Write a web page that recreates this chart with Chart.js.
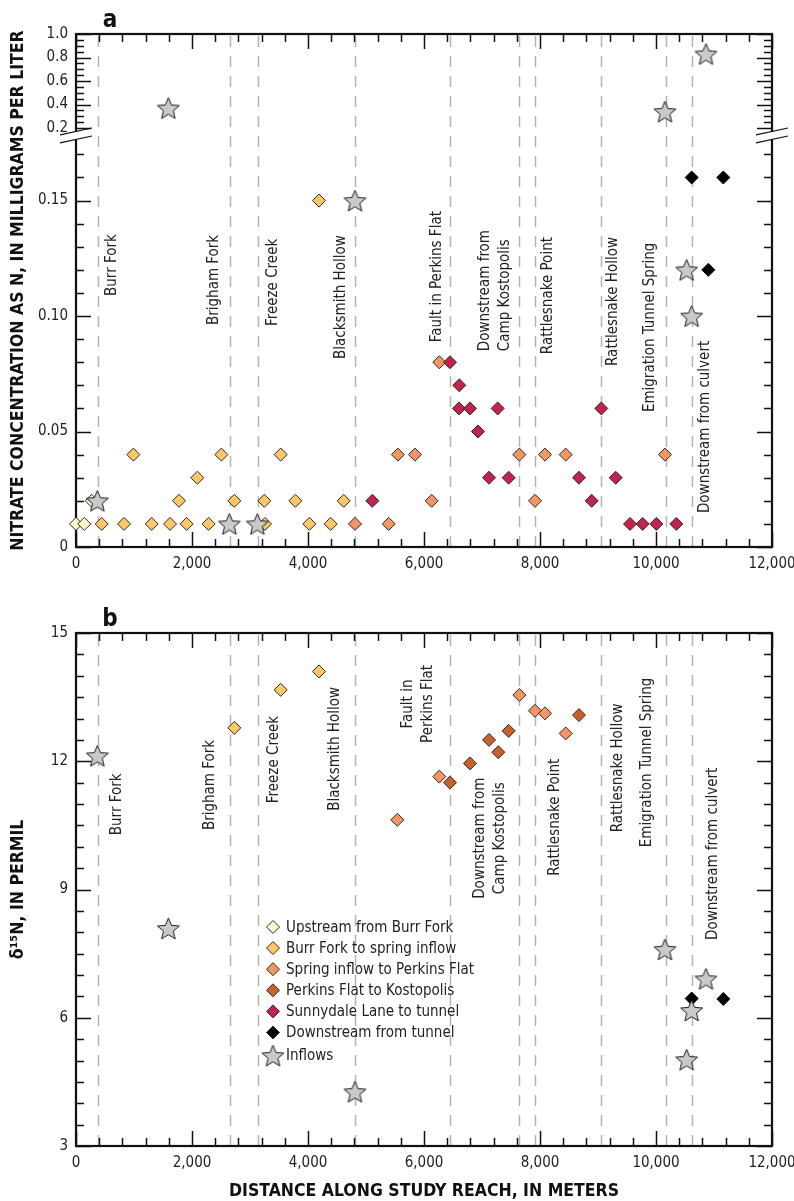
<!DOCTYPE html>
<html>
<head>
<meta charset="utf-8">
<script src="https://cdn.jsdelivr.net/npm/chart.js@4.4.1/dist/chart.umd.min.js"></script>
<style>
  body { margin: 0; background: #fff; }
  #wrap { position: relative; width: 794px; height: 1201px; }
  canvas { position: absolute; left: 0; }
</style>
</head>
<body>
<div id="wrap">
  <canvas id="chartA" width="794" height="580" style="top:0"></canvas>
  <canvas id="chartB" width="794" height="621" style="top:580px"></canvas>
</div>
<script>
// ---- data (distance along reach in meters) ----
const reachX = [374, 2655, 3133, 4810, 6443, 7644, 7920, 9057, 10167, 10621];

// nitrate as N, mg/L  [distance, value]
const upstreamNitrate = [[0, 0.01], [143, 0.01], [270, 0.02]];
const burrNitrate = [[443, 0.01], [828, 0.01], [989, 0.04], [1305, 0.01], [1621, 0.01], [1776, 0.02], [1908, 0.01],
  [2092, 0.03], [2287, 0.01], [2506, 0.04], [2730, 0.02], [3247, 0.02], [3259, 0.01], [3529, 0.04], [3782, 0.02],
  [4023, 0.01], [4190, 0.15], [4391, 0.01], [4615, 0.02]];
const springNitrate = [[4810, 0.01], [5391, 0.01], [5550, 0.04], [5845, 0.04], [6132, 0.02], [6264, 0.08],
  [7644, 0.04], [7914, 0.02], [8086, 0.04], [8443, 0.04], [10155, 0.04]];
const perkinsNitrate = [];
const sunnyNitrate = [[5109, 0.02], [6448, 0.08], [6609, 0.07], [6603, 0.06], [6793, 0.06], [6931, 0.05], [7121, 0.03],
  [7270, 0.06], [7460, 0.03], [8672, 0.03], [8891, 0.02], [9057, 0.06], [9305, 0.03], [9552, 0.01], [9770, 0.01],
  [10006, 0.01], [10350, 0.01]];
const tunnelNitrate = [[10615, 0.16], [11161, 0.16], [10902, 0.12]];
const inflowNitrate = [[368, 0.02], [1592, 0.37], [2644, 0.01], [3127, 0.01], [4810, 0.15], [10155, 0.34],
  [10529, 0.12], [10615, 0.10], [10862, 0.83]];

// delta 15N, permil
const upstreamD15 = [];
const burrD15 = [[2730, 12.78], [3529, 13.67], [4190, 14.10]];
const springD15 = [[5540, 10.63], [6264, 11.64], [7644, 13.55], [7914, 13.18], [8086, 13.12], [8443, 12.65]];
const perkinsD15 = [[6448, 11.50], [6793, 11.95], [7121, 12.50], [7281, 12.21], [7460, 12.71], [8672, 13.08]];
const sunnyD15 = [];
const tunnelD15 = [[10615, 6.45], [11161, 6.44]];
const inflowD15 = [[368, 12.13], [1592, 8.09], [4810, 4.27], [10155, 7.60], [10529, 5.02], [10615, 6.17], [10862, 6.91]];

// tick labels
const xMajor = [0, 2000, 4000, 6000, 8000, 10000, 12000];
const nitrateMajorLow = [0, 0.05, 0.10, 0.15];
const nitrateMajorHigh = [0.2, 0.4, 0.6, 0.8, 1.0];
const d15Major = [3, 6, 9, 12, 15];

const groupNames = ['Upstream from Burr Fork', 'Burr Fork to spring inflow', 'Spring inflow to Perkins Flat',
  'Perkins Flat to Kostopolis', 'Sunnydale Lane to tunnel', 'Downstream from tunnel', 'Inflows'];
const groupColors = ['#fff7cc', '#fdc766', '#f59562', '#c9612b', '#c1234b', '#000000', '#c8c8c8'];

// ---- styling / layout ----
const FONT = "'DejaVu Sans Condensed', 'DejaVu Sans', sans-serif";
const TFONT = "'Liberation Sans Narrow', 'DejaVu Sans Condensed', sans-serif";
Chart.defaults.font.family = FONT;
Chart.defaults.font.size = 15;
Chart.defaults.color = '#222';

// broken nitrate axis: linear below 0.175, compressed above 0.2
function nd(v) { return v <= 0.175 ? v : 0.1814 + (v - 0.2) * 0.0509; }

function makeStar(size) {
  const c = document.createElement('canvas');
  c.width = c.height = size;
  const g = c.getContext('2d');
  const R = size / 2 - 1, r = R * 0.45;
  const cx = size / 2, cy = size / 2 + R * 0.095;
  g.beginPath();
  for (let i = 0; i < 10; i++) {
    const ang = -Math.PI / 2 + i * Math.PI / 5, rr = i % 2 ? r : R;
    g.lineTo(cx + rr * Math.cos(ang), cy + rr * Math.sin(ang));
  }
  g.closePath();
  g.fillStyle = '#c9c9c9'; g.fill();
  g.strokeStyle = '#1a1a1a'; g.lineWidth = 1; g.stroke();
  return c;
}
const star = makeStar(25);

function datasets(series, tf) {
  return series.map((pts, i) => {
    const isStar = i === 6;
    return {
      label: groupNames[i],
      data: pts.map(p => ({x: p[0], y: tf(p[1])})),
      pointStyle: isStar ? star : 'rectRot',
      pointRadius: 6.5,
      pointBackgroundColor: groupColors[i],
      pointBorderColor: i === 5 ? '#000' : '#2a2a2a',
      pointBorderWidth: 1,
      showLine: false,
      clip: false,
      order: isStar ? 0 : 10 - i
    };
  });
}

function xTicks(scale) {
  const t = [];
  for (let v = 0; v <= 12000; v += 400) t.push({value: v, big: xMajor.includes(v)});
  scale.ticks = t;
}
function xLabel(v, i, ticks) { return ticks[i].big ? v.toLocaleString('en-US') : ''; }

const labelsA = [
  {x: 621, y: 0.1087, lines: ['Burr Fork']},
  {x: 2379, y: 0.0961, lines: ['Brigham Fork']},
  {x: 3397, y: 0.0957, lines: ['Freeze Creek']},
  {x: 4569, y: 0.0814, lines: ['Blacksmith Hollow']},
  {x: 6224, y: 0.0887, lines: ['Fault in Perkins Flat']},
  {x: 7224, y: 0.0848, lines: ['Downstream from', 'Camp Kostopolis']},
  {x: 8138, y: 0.0835, lines: ['Rattlesnake Point']},
  {x: 9259, y: 0.0784, lines: ['Rattlesnake Hollow']},
  {x: 9897, y: 0.0584, lines: ['Emigration Tunnel Spring']},
  {x: 10845, y: 0.0147, lines: ['Downstream from culvert']}
];
const labelsB = [
  {x: 707, y: 10.27, lines: ['Burr Fork']},
  {x: 2310, y: 10.39, lines: ['Brigham Fork']},
  {x: 3414, y: 11.02, lines: ['Freeze Creek']},
  {x: 4466, y: 10.84, lines: ['Blacksmith Hollow']},
  {x: 5897, y: 13.34, lines: ['Fault in', 'Perkins Flat'], mid: true},
  {x: 7147, y: 10.20, lines: ['Downstream from', 'Camp Kostopolis'], mid: true},
  {x: 8259, y: 9.32, lines: ['Rattlesnake Point']},
  {x: 9345, y: 10.34, lines: ['Rattlesnake Hollow']},
  {x: 9845, y: 9.99, lines: ['Emigration Tunnel Spring']},
  {x: 10983, y: 7.82, lines: ['Downstream from culvert']}
];

const panels = {
  chartA: {letter: 'a', labels: labelsA, tf: nd, brk: true},
  chartB: {letter: 'b', labels: labelsB, tf: v => v, legend: true}
};

const decor = {
  id: 'decor',
  beforeDatasetsDraw(chart) {
    const P = panels[chart.canvas.id];
    const {ctx, chartArea: a, scales: {x, y}} = chart;
    ctx.save();
    // reach lines
    ctx.strokeStyle = '#b3b3b3'; ctx.lineWidth = 1.5; ctx.setLineDash([11, 9]);
    reachX.forEach(v => {
      const px = Math.round(x.getPixelForValue(v)) + 0.5;
      ctx.beginPath(); ctx.moveTo(px, a.bottom); ctx.lineTo(px, a.top + 2); ctx.stroke();
    });
    ctx.setLineDash([]);
    // reach labels
    ctx.fillStyle = '#222'; ctx.font = '15px ' + FONT; ctx.textBaseline = 'middle';
    P.labels.forEach(l => {
      ctx.save();
      ctx.translate(x.getPixelForValue(l.x), y.getPixelForValue(P.tf(l.y)));
      ctx.rotate(-Math.PI / 2);
      ctx.textAlign = l.mid ? 'center' : 'left';
      l.lines.forEach((t, i) => ctx.fillText(t, 0, (i - (l.lines.length - 1) / 2) * 20));
      ctx.restore();
    });
    // tick marks (inside, all four sides)
    ctx.strokeStyle = '#111'; ctx.lineWidth = 1.5;
    x.ticks.forEach(t => {
      const px = Math.round(x.getPixelForValue(t.value)) + 0.5, len = t.big ? 15 : 8;
      ctx.beginPath();
      ctx.moveTo(px, a.bottom); ctx.lineTo(px, a.bottom - len);
      ctx.moveTo(px, a.top); ctx.lineTo(px, a.top + len);
      ctx.stroke();
    });
    y.ticks.forEach(t => {
      const py = Math.round(y.getPixelForValue(t.value)) + 0.5, len = t.big ? 15 : 8;
      ctx.beginPath();
      ctx.moveTo(a.left, py); ctx.lineTo(a.left + len, py);
      ctx.moveTo(a.right, py); ctx.lineTo(a.right - len, py);
      ctx.stroke();
    });
    // frame
    ctx.lineWidth = 2.2; ctx.strokeStyle = '#111';
    ctx.strokeRect(a.left, a.top, a.width, a.height);
    // axis break
    if (P.brk) {
      const yb = (y.getPixelForValue(nd(0.175)) + y.getPixelForValue(nd(0.2))) / 2;
      [a.left, a.right].forEach(ax => {
        ctx.fillStyle = '#fff'; ctx.fillRect(ax - 3, yb - 4, 6, 8);
        ctx.strokeStyle = '#111'; ctx.lineWidth = 1.2;
        [-4, 4].forEach(dy => {
          ctx.beginPath(); ctx.moveTo(ax - 16, yb + dy + 3.4); ctx.lineTo(ax + 16, yb + dy - 3.4); ctx.stroke();
        });
      });
    }
    // panel letter
    ctx.fillStyle = '#111'; ctx.font = 'bold 24px ' + TFONT;
    ctx.textAlign = 'center'; ctx.textBaseline = 'alphabetic';
    ctx.fillText(P.letter, a.left + 34, a.top - 7);
    ctx.restore();
  },
  afterDraw(chart) {
    const P = panels[chart.canvas.id];
    if (!P.legend) return;
    const {ctx, chartArea: a} = chart;
    const mx = a.left + 197, tx = a.left + 210, y0 = a.top + 294, step = 21.1;
    ctx.save();
    ctx.font = '15px ' + FONT; ctx.textBaseline = 'middle'; ctx.textAlign = 'left';
    groupNames.forEach((name, i) => {
      const yy = y0 + i * step + (i === 6 ? 2 : 0);
      if (i === 6) {
        ctx.drawImage(star, mx - star.width / 2, yy - star.height / 2);
      } else {
        ctx.beginPath();
        ctx.moveTo(mx - 6.5, yy); ctx.lineTo(mx, yy - 6.5); ctx.lineTo(mx + 6.5, yy); ctx.lineTo(mx, yy + 6.5);
        ctx.closePath();
        ctx.fillStyle = groupColors[i]; ctx.fill();
        ctx.strokeStyle = '#2a2a2a'; ctx.lineWidth = 1; ctx.stroke();
      }
      ctx.fillStyle = '#222';
      ctx.fillText(name, tx, yy + 1);
    });
    ctx.restore();
  }
};

const titleFont = {family: TFONT, size: 17.5, weight: 'bold', lineHeight: 1};

function baseOptions(yScale, xHeight, xTitle) {
  return {
    responsive: false,
    animation: false,
    events: [],
    layout: {padding: {top: 0, right: 22, left: 0, bottom: 0}},
    plugins: {legend: {display: false}, tooltip: {enabled: false}},
    scales: {
      x: {
        type: 'linear', min: 0, max: 12000,
        grid: {display: false, drawTicks: false},
        border: {display: false},
        afterBuildTicks: xTicks,
        afterFit: s => { s.height = xHeight; s.paddingLeft = 0; s.paddingRight = 0; },
        ticks: {autoSkip: false, maxRotation: 0, padding: 8, color: '#222', callback: xLabel},
        title: xTitle ? {display: true, text: xTitle, color: '#111', font: titleFont, padding: {top: 0, bottom: 1}} : {display: false}
      },
      y: yScale
    }
  };
}

const optsA = baseOptions({
  type: 'linear', min: 0, max: nd(1.0),
  grid: {display: false, drawTicks: false},
  border: {display: false},
  afterBuildTicks: s => {
    const t = [];
    for (let i = 0; i <= 17; i++) {
      const v = i / 100;
      t.push({value: v, big: nitrateMajorLow.some(m => Math.abs(m - v) < 1e-9), lbl: i === 0 ? '0' : v.toFixed(2)});
    }
    for (let i = 4; i <= 20; i++) {
      const v = i / 20;
      t.push({value: nd(v), big: nitrateMajorHigh.some(m => Math.abs(m - v) < 1e-9), lbl: v.toFixed(1)});
    }
    s.ticks = t;
  },
  afterFit: s => { s.width = 76; s.paddingTop = 0; s.paddingBottom = 0; },
  ticks: {autoSkip: false, padding: 8, color: '#222', callback: (v, i, ticks) => ticks[i].big ? ticks[i].lbl : ''},
  title: {display: true, text: 'NITRATE CONCENTRATION AS N, IN MILLIGRAMS PER LITER', color: '#111', font: titleFont, padding: {top: 10, bottom: 0}}
}, 33, null);
optsA.layout.padding.top = 34;

const optsB = baseOptions({
  type: 'linear', min: 3, max: 15,
  grid: {display: false, drawTicks: false},
  border: {display: false},
  afterBuildTicks: s => {
    const t = [];
    for (let v = 3; v <= 15; v += 0.5) t.push({value: v, big: d15Major.includes(v)});
    s.ticks = t;
  },
  afterFit: s => { s.width = 76; s.paddingTop = 0; s.paddingBottom = 0; },
  ticks: {autoSkip: false, padding: 8, color: '#222', callback: (v, i, ticks) => ticks[i].big ? String(v) : ''},
  title: {display: true, text: 'δ¹⁵N, IN PERMIL', color: '#111', font: titleFont, padding: {top: 10, bottom: 0}}
}, 55, 'DISTANCE ALONG STUDY REACH, IN METERS');
optsB.layout.padding.top = 53;

new Chart(document.getElementById('chartA'), {
  type: 'scatter',
  data: {datasets: datasets([upstreamNitrate, burrNitrate, springNitrate, perkinsNitrate, sunnyNitrate, tunnelNitrate, inflowNitrate], nd)},
  options: optsA,
  plugins: [decor]
});

new Chart(document.getElementById('chartB'), {
  type: 'scatter',
  data: {datasets: datasets([upstreamD15, burrD15, springD15, perkinsD15, sunnyD15, tunnelD15, inflowD15], v => v)},
  options: optsB,
  plugins: [decor]
});
</script>
</body>
</html>
